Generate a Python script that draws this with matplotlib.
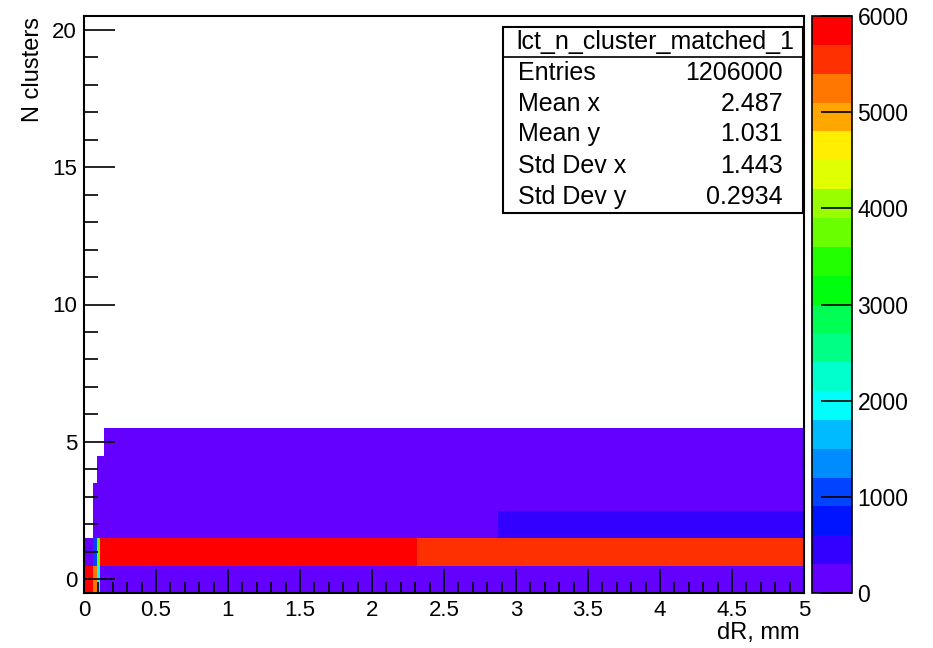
import colorsys
import numpy as np
import matplotlib
matplotlib.use("Agg")
import matplotlib.pyplot as plt
from matplotlib.colors import ListedColormap, BoundaryNorm
from matplotlib.patches import Rectangle

plt.rcParams['font.family'] = ['Liberation Sans', 'DejaVu Sans']

# histogram binning: dR in 400 bins over 0..5 mm, N clusters -0.5..20.5
x_lo, x_hi, n_xbins = 0.0, 5.0, 400
y_lo, y_hi, n_ybins = -0.5, 20.5, 21

# bin contents, per N-clusters row: (dR from, dR to, count)
row0 = [(0.0, 0.0625, 5850), (0.0625, 0.0875, 5250), (0.0875, 0.1125, 1950), (0.1125, 5.0, 120)]
row1 = [(0.0, 0.0625, 150), (0.0625, 0.0875, 1050), (0.0875, 0.1125, 3750),
        (0.1125, 2.3125, 5850), (2.3125, 5.0, 5550)]
row2 = [(0.0625, 2.875, 200), (2.875, 5.0, 400)]
row3 = [(0.0625, 5.0, 60)]
row4 = [(0.0875, 5.0, 20)]
row5 = [(0.1375, 5.0, 5)]
rows = {0: row0, 1: row1, 2: row2, 3: row3, 4: row4, 5: row5}

stats_title = "lct_n_cluster_matched_1"
stats_names = ["Entries", "Mean x", "Mean y", "Std Dev x", "Std Dev y"]
stats_values = ["1206000", "2.487", "1.031", "1.443", "0.2934"]

z_max = 6000
n_contours = 20

# fill the 2D histogram
x_edges = np.linspace(x_lo, x_hi, n_xbins + 1)
y_edges = np.linspace(y_lo, y_hi, n_ybins + 1)
x_cent = 0.5 * (x_edges[:-1] + x_edges[1:])
counts = np.zeros((n_ybins, n_xbins))
for ny, segs in rows.items():
    for a, b, c in segs:
        counts[ny, (x_cent >= a) & (x_cent < b)] = c
counts = np.ma.masked_equal(counts, 0)

# old ROOT "pretty" palette sampled at 20 contour levels
cols = []
for j in range(n_contours):
    idx = int((j + 0.99) * 50 / n_contours)
    hue = 0 if idx >= 49 else 280 - (idx + 1) * 5.6
    cols.append(colorsys.hls_to_rgb(hue / 360.0, 0.5, 1.0))
cmap = ListedColormap(cols)
levels = np.linspace(0, z_max, n_contours + 1)
norm = BoundaryNorm(levels, cmap.N)

W, H = 933, 648
fig = plt.figure(figsize=(W / 100, H / 100), dpi=100)
ax = fig.add_axes([84 / W, 55 / H, 720 / W, 577 / H])
ax.pcolormesh(x_edges, y_edges, counts, cmap=cmap, norm=norm)
ax.set_xlim(x_lo, x_hi)
ax.set_ylim(y_lo, y_hi)

ax.set_xticks(np.arange(0, 5.01, 0.5))
ax.set_xticklabels(["0", "0.5", "1", "1.5", "2", "2.5", "3", "3.5", "4", "4.5", "5"])
ax.set_xticks(np.arange(0, 5.01, 0.1), minor=True)
ax.set_yticks([0, 5, 10, 15, 20])
ax.set_yticks(np.arange(0, 21, 1), minor=True)
ax.tick_params(axis='x', which='major', direction='in', length=17, width=1.2, labelsize=16, pad=5)
ax.tick_params(axis='x', which='minor', direction='in', length=8, width=1.2)
ax.tick_params(axis='y', which='major', direction='in', length=22, width=1.2, labelsize=16, pad=5)
ax.tick_params(axis='y', which='minor', direction='in', length=10, width=1.2)
for s in ax.spines.values():
    s.set_linewidth(1.5)

fig.text(800 / W, 1 - 633 / H, "dR, mm", ha='right', va='center', fontsize=17)
fig.text(33 / W, 1 - 17 / H, "N clusters", ha='center', va='top', rotation=90, fontsize=17)

# colour palette
cax = fig.add_axes([812 / W, 55 / H, 40 / W, 577 / H])
cb = fig.colorbar(plt.cm.ScalarMappable(norm=norm, cmap=cmap), cax=cax,
                  ticks=np.arange(0, z_max + 1, 1000))
cb.outline.set_linewidth(1.2)
cax.tick_params(direction='in', length=22, width=1.2, labelsize=16.5, pad=4)
cax.minorticks_off()

# stats box
fig.add_artist(Rectangle((503 / W, 1 - 213 / H), 300 / W, 186 / H, transform=fig.transFigure,
                         facecolor='white', edgecolor='black', linewidth=1.5))
fig.add_artist(plt.Line2D([503 / W, 803 / W], [1 - 57 / H, 1 - 57 / H], transform=fig.transFigure,
                          color='black', linewidth=1.2))
fig.text(655 / W, 1 - 42 / H, stats_title, ha='center', va='center', fontsize=18)
row_y = [73, 104, 134, 166, 197]
for name, val, yy in zip(stats_names, stats_values, row_y):
    fig.text(518 / W, 1 - yy / H, name, ha='left', va='center', fontsize=18)
    fig.text(783 / W, 1 - yy / H, val, ha='right', va='center', fontsize=18)

fig.savefig("out.png", dpi=100)
